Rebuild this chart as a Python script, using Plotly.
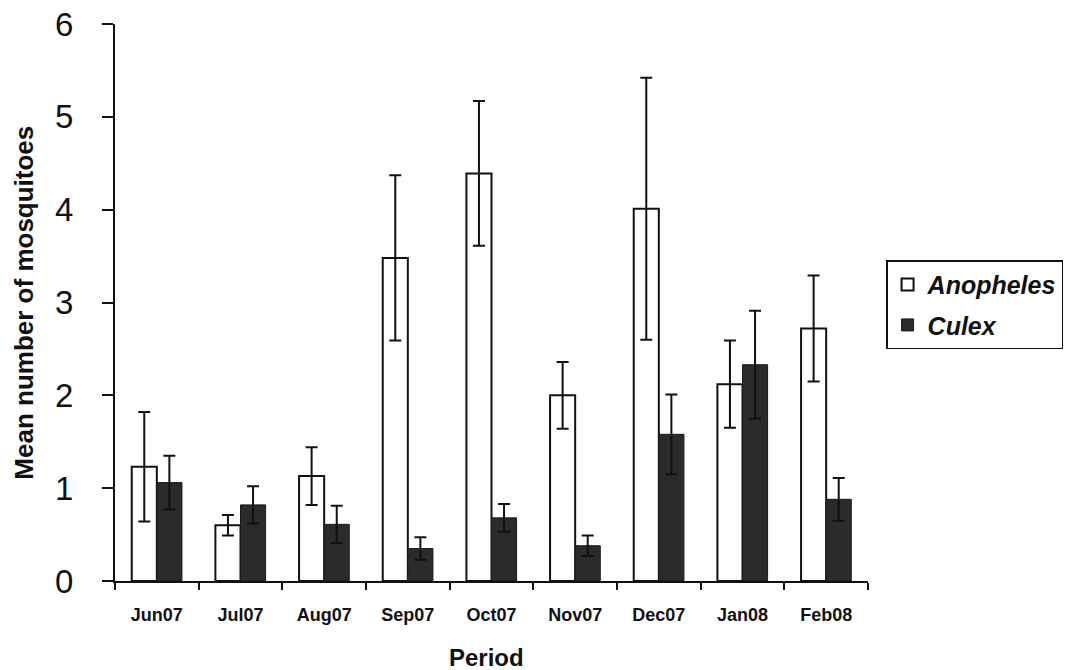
import plotly.graph_objects as go

periods = ["Jun07", "Jul07", "Aug07", "Sep07", "Oct07", "Nov07", "Dec07", "Jan08", "Feb08"]
anopheles = [1.23, 0.60, 1.13, 3.48, 4.39, 2.00, 4.01, 2.12, 2.72]
anopheles_err = [0.59, 0.11, 0.31, 0.89, 0.78, 0.36, 1.41, 0.47, 0.57]
culex = [1.06, 0.82, 0.61, 0.35, 0.68, 0.38, 1.58, 2.33, 0.88]
culex_err = [0.29, 0.20, 0.20, 0.12, 0.15, 0.11, 0.43, 0.58, 0.23]
y_ticks = [0, 1, 2, 3, 4, 5, 6]

FONT = "Liberation Sans, Arial, sans-serif"

fig = go.Figure()
fig.add_trace(go.Bar(
    name="Anopheles", x=periods, y=anopheles, legendgroup="a",
    marker=dict(color="white", line=dict(color="#111111", width=2)),
    error_y=dict(type="data", array=anopheles_err, visible=True,
                 color="#111111", thickness=2, width=6),
))
fig.add_trace(go.Bar(
    name="Culex", x=periods, y=culex, legendgroup="c",
    marker=dict(color="#2b2b2b", line=dict(color="#1a1a1a", width=1)),
    error_y=dict(type="data", array=culex_err, visible=True,
                 color="#111111", thickness=2, width=6),
))

fig.update_layout(
    width=1065, height=670,
    margin=dict(l=115, r=197, t=24, b=89, autoexpand=False),
    paper_bgcolor="white", plot_bgcolor="white",
    barmode="group", bargap=0.40, bargroupgap=0,
    font=dict(family=FONT, color="#111111"),
    showlegend=True,
    legend=dict(
        x=1.024, y=0.576, xanchor="left", yanchor="top",
        bordercolor="#111111", borderwidth=1.5, bgcolor="white",
        font=dict(family=FONT, size=25, style="italic", weight="bold", color="#111111"),
        tracegroupgap=5,
    ),
    xaxis=dict(
        automargin=False,
        showline=True, linecolor="#111111", linewidth=2,
        ticks="outside", ticklen=7, tickwidth=1.5, tickcolor="#111111",
        tickson="boundaries",
        tickfont=dict(family=FONT, size=18, weight="bold", color="#111111"),
        ticklabelstandoff=16,
        showgrid=False, zeroline=False,
    ),
    yaxis=dict(
        automargin=False,
        range=[0, 6], tickvals=y_ticks,
        showline=True, linecolor="#111111", linewidth=2,
        ticks="outside", ticklen=11, tickwidth=1.5, tickcolor="#111111",
        tickfont=dict(family=FONT, size=33, color="#111111"),
        ticklabelstandoff=22,
        showgrid=False, zeroline=False,
    ),
    annotations=[
        dict(text="<b>Period</b>", xref="paper", yref="paper", x=0.494, y=-0.138,
             xanchor="center", yanchor="middle", showarrow=False,
             font=dict(family=FONT, size=24, color="#111111")),
        dict(text="<b>Mean number of mosquitoes</b>", xref="paper", yref="paper",
             x=-0.122, y=0.50, xanchor="center", yanchor="middle", textangle=-90,
             showarrow=False, font=dict(family=FONT, size=26, color="#111111")),
    ],
)

fig.write_html(
    "out.html",
    config={"displayModeBar": False},
    post_script="document.body.style.margin='0px';document.body.style.overflow='hidden';",
)
